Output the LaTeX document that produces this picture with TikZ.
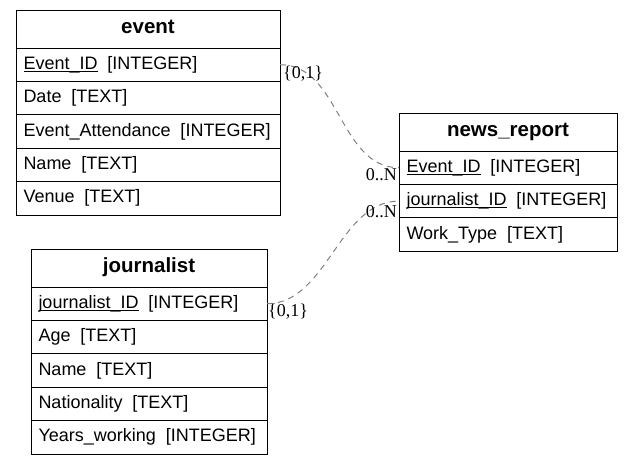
\documentclass[tikz,border=0pt]{standalone}
\usepackage{fontspec}
\setmainfont{Liberation Sans}
\newfontfamily\lblfont{Liberation Serif}
\newcommand\keyul[1]{\setbox0\hbox{#1}\rlap{\rule[-2.2pt]{\wd0}{0.8pt}}\box0}
\begin{document}
\begin{tikzpicture}[x=1pt,y=-1pt,
 cell/.style={draw=black, line width=1pt, rectangle, outer sep=0pt, inner xsep=7.5pt, inner ysep=0pt, anchor=north west, minimum height=33.4pt, text height=12.5pt, text depth=3.5pt, font=\fontsize{18}{21}\selectfont, align=left},
 head/.style={cell, minimum height=38pt, font=\fontsize{20.5}{24}\selectfont\bfseries, align=center},
 conn/.style={draw=gray, line width=1pt, dash pattern=on 6pt off 5pt},
 card/.style={font=\lblfont\fontsize{18}{21}\selectfont, inner sep=0pt}]
\useasboundingbox (0,0) rectangle (632,464);
% event
\node[head, text width=249pt] (ev) at (16,10) {event};
\node[cell, text width=249pt] (ev1) at (ev.south west) {\keyul{Event\_ID}\hspace{0.55em}[INTEGER]};
\node[cell, text width=249pt] (ev2) at (ev1.south west) {Date\hspace{0.55em}[TEXT]};
\node[cell, text width=249pt] (ev3) at (ev2.south west) {Event\_Attendance\hspace{0.55em}[INTEGER]};
\node[cell, text width=249pt] (ev4) at (ev3.south west) {Name\hspace{0.55em}[TEXT]};
\node[cell, text width=249pt] (ev5) at (ev4.south west) {Venue\hspace{0.55em}[TEXT]};
% journalist
\node[head, text width=221pt] (jo) at (31,249) {journalist};
\node[cell, text width=221pt] (jo1) at (jo.south west) {\keyul{journalist\_ID}\hspace{0.55em}[INTEGER]};
\node[cell, text width=221pt] (jo2) at (jo1.south west) {Age\hspace{0.55em}[TEXT]};
\node[cell, text width=221pt] (jo3) at (jo2.south west) {Name\hspace{0.55em}[TEXT]};
\node[cell, text width=221pt] (jo4) at (jo3.south west) {Nationality\hspace{0.55em}[TEXT]};
\node[cell, text width=221pt] (jo5) at (jo4.south west) {Years\_working\hspace{0.55em}[INTEGER]};
% news_report
\node[head, text width=203pt] (nr) at (399,113) {news\_report};
\node[cell, text width=203pt] (nr1) at (nr.south west) {\keyul{Event\_ID}\hspace{0.55em}[INTEGER]};
\node[cell, text width=203pt] (nr2) at (nr1.south west) {\keyul{journalist\_ID}\hspace{0.55em}[INTEGER]};
\node[cell, text width=203pt] (nr3) at (nr2.south west) {Work\_Type\hspace{0.55em}[TEXT]};
% connectors
\draw[conn] (ev1.east) .. controls +(60,0) and +(-60,0) .. (nr1.west);
\draw[conn] (jo1.east) .. controls +(60,0) and +(-60,0) .. (nr2.west);
% cardinalities
\node[card, anchor=west] (l1) at (283,74) {\{0,1\}};
\node[card, anchor=east] (l2) at (397,175) {0..N};
\node[card, anchor=east] (l3) at (397,212) {0..N};
\node[card, anchor=west] (l4) at (268,312) {\{0,1\}};
\end{tikzpicture}
\end{document}
